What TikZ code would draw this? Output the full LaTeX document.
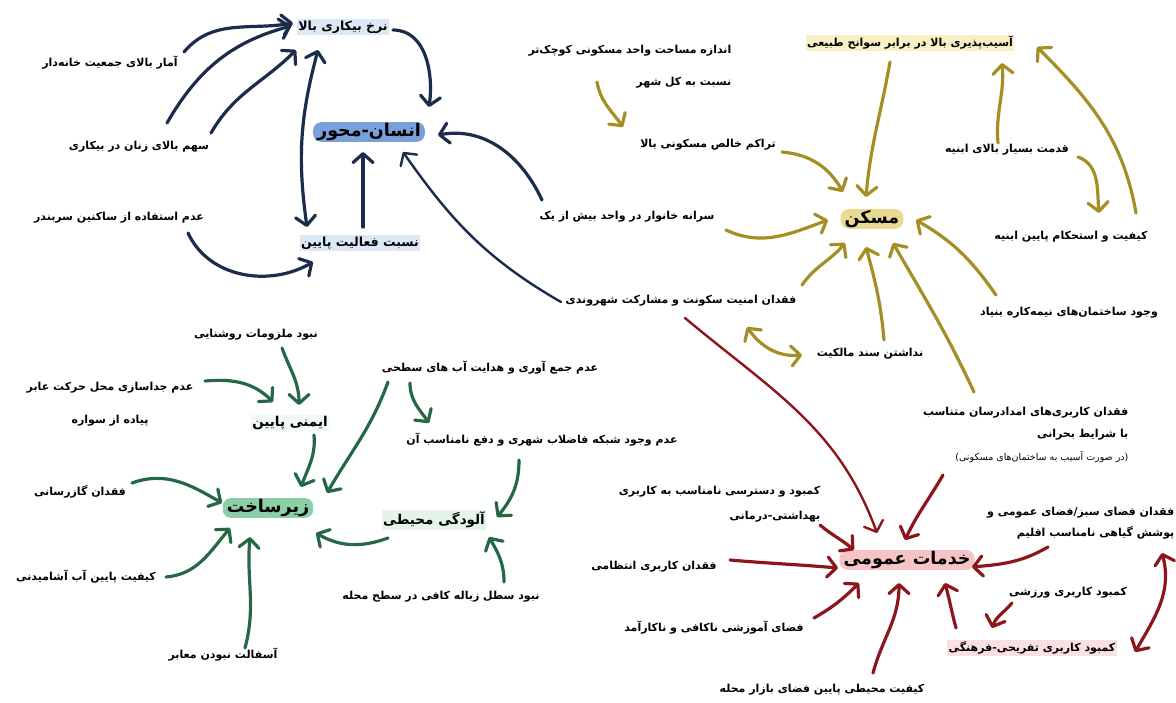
\documentclass[tikz,border=0pt]{standalone}
\usepackage{fontspec}
\newfontfamily\fa[Script=Arabic]{DejaVu Sans}
\TeXXeTstate=1
\usetikzlibrary{arrows.meta}
\newcommand\RL[1]{\beginR#1\endR}
\definecolor{navy}{RGB}{27,45,75}
\definecolor{olive}{RGB}{164,143,38}
\definecolor{dgreen}{RGB}{38,104,70}
\definecolor{dred}{RGB}{140,22,28}
\definecolor{lblue}{RGB}{221,232,246}
\definecolor{bhub}{RGB}{122,160,218}
\definecolor{lyellow}{RGB}{248,240,196}
\definecolor{yhub}{RGB}{232,218,146}
\definecolor{ghub}{RGB}{140,206,166}
\definecolor{lgreen}{RGB}{228,244,234}
\definecolor{vlgreen}{RGB}{240,249,243}
\definecolor{phub}{RGB}{246,196,198}
\definecolor{lpink}{RGB}{250,224,225}
\tikzset{
  lbl/.style={font=\fa\bfseries\fontsize{11}{13}\selectfont, inner sep=1.5pt, text=black},
  big/.style={font=\fa\bfseries\fontsize{12.5}{15}\selectfont},
  hub/.style={font=\fa\bfseries\fontsize{17.5}{20}\selectfont, rounded corners=8pt, inner xsep=4pt, inner ysep=1pt, text=black},
  tipA/.tip={Straight Barb[length=9pt,width=20pt,round]},
  con/.style={line width=3.2pt, line cap=round, -tipA},
  dbl/.style={line width=3.2pt, line cap=round, tipA-tipA},
  nv/.style={draw=navy},
  ol/.style={draw=olive},
  gr/.style={draw=dgreen},
  rd/.style={draw=dred}
}
\begin{document}
\begin{tikzpicture}[x=1pt,y=1pt]
\fill[white] (0,0) rectangle (1176,-702);
\useasboundingbox (0,0) rectangle (1176,-702);
% ---------- blue cluster
\node[lbl,big,fill=lblue] (unemp) at (343,-27) {\RL{نرخ بیکاری بالا}};
\node[hub,fill=bhub] (hum) at (369,-132) {\RL{انسان-محور}};
\node[lbl,big,fill=lblue] (act) at (360,-243) {\RL{نسبت فعالیت پایین}};
\node[lbl] (stat) at (110,-63) {\RL{آمار بالای جمعیت خانه‌دار}};
\node[lbl] (women) at (139,-147) {\RL{سهم بالای زنان در بیکاری}};
\node[lbl] (nouse) at (119,-218) {\RL{عدم استفاده از ساکنین سربندر}};
% ---------- olive cluster
\node[lbl,fill=lyellow] (vul) at (910,-43) {\RL{آسیب‌پذیری بالا در برابر سوانح طبیعی}};
\node[lbl,align=right,anchor=north east,font=\fa\bfseries\fontsize{11}{32}\selectfont] (size) at (733,-43) {\RL{اندازه مساحت واحد مسکونی کوچک‌تر}\\\RL{نسبت به کل شهر}};
\node[lbl] (dens) at (708,-145) {\RL{تراکم خالص مسکونی بالا}};
\node[hub,fill=yhub] (mask) at (872,-219) {\RL{مسکن}};
\node[lbl] (house) at (627,-217) {\RL{سرانه خانوار در واحد بیش از یک}};
\node[lbl] (secur) at (681,-301) {\RL{فقدان امنیت سکونت و مشارکت شهروندی}};
\node[lbl] (own) at (870,-354) {\RL{نداشتن سند مالکیت}};
\node[lbl] (old) at (1007,-150) {\RL{قدمت بسیار بالای ابنیه}};
\node[lbl] (qual) at (1071,-237) {\RL{کیفیت و استحکام پایین ابنیه}};
\node[lbl] (unfin) at (1069,-313) {\RL{وجود ساختمان‌های نیمه‌کاره بنیاد}};
\node[lbl,align=right,anchor=north east,font=\fa\bfseries\fontsize{11}{22.5}\selectfont] (emerg) at (1130,-405) {\RL{فقدان کاربری‌های امدادرسان متناسب}\\\RL{با شرایط بحرانی}\\{\fontsize{9.5}{11}\selectfont\mdseries\RL{(در صورت آسیب به ساختمان‌های مسکونی)}}};
% ---------- green cluster
\node[lbl] (light) at (256,-335) {\RL{نبود ملزومات روشنایی}};
\node[lbl,align=center,font=\fa\bfseries\fontsize{11}{33}\selectfont] (sep) at (110,-404) {\RL{عدم جداسازی محل حرکت  عابر}\\\RL{پیاده از سواره}};
\node[lbl,fill=vlgreen,font=\fa\bfseries\fontsize{13.5}{16}\selectfont] (safety) at (290,-423) {\RL{ایمنی پایین}};
\node[hub,fill=ghub] (infra) at (268,-508) {\RL{زیرساخت}};
\node[lbl] (surf) at (490,-368) {\RL{عدم جمع آوری و هدایت آب های سطحی}};
\node[lbl] (sewer) at (542,-440) {\RL{عدم وجود شبکه فاضلاب شهری و دفع نامناسب آن}};
\node[lbl,fill=lgreen,font=\fa\bfseries\fontsize{13.5}{16}\selectfont] (poll) at (434,-520) {\RL{آلودگی محیطی}};
\node[lbl] (trash) at (441,-597) {\RL{نبود سطل زباله کافی در سطح محله}};
\node[lbl] (gas) at (80,-492) {\RL{فقدان گازرسانی}};
\node[lbl] (water) at (86,-577) {\RL{کیفیت پایین آب آشامیدنی}};
\node[lbl] (asph) at (223,-655) {\RL{آسفالت نبودن معابر}};
% ---------- red cluster
\node[hub,fill=phub] (pub) at (907,-560) {\RL{خدمات عمومی}};
\node[lbl,align=right,anchor=north east,font=\fa\bfseries\fontsize{11}{25}\selectfont] (health) at (822,-484) {\RL{کمبود و دسترسی نامناسب به کاربری}\\\RL{بهداشتی-درمانی}};
\node[lbl] (perm) at (654,-567) {\RL{فقدان کاربری انتظامی}};
\node[lbl] (edu) at (714,-628) {\RL{فضای آموزشی ناکافی و ناکارآمد}};
\node[lbl] (market) at (822,-690) {\RL{کیفیت محیطی پایین فضای بازار محله}};
\node[lbl] (sport) at (1068,-593) {\RL{کمبود کاربری ورزشی}};
\node[lbl,fill=lpink] (recr) at (1032,-648) {\RL{کمبود کاربری تفریحی-فرهنگی}};
\node[lbl,align=right,anchor=north east,font=\fa\bfseries\fontsize{11}{21}\selectfont] (green) at (1176,-505) {\RL{فقدان فضای سبز/فضای عمومی و}\\\RL{پوشش گیاهی نامناسب اقلیم}};
% ---------- blue connectors
\draw[con,nv] ([shift={(74,11)}]stat.center) to[out=50,in=190] ([shift={(-50,4)}]unemp.center);
\draw[con,nv] ([shift={(28,24)}]women.center) to[out=60,in=195] ([shift={(-52,1)}]unemp.center);
\draw[con,nv] ([shift={(72,14)}]women.center) to[out=60,in=225] ([shift={(-47,-23)}]unemp.center);
\draw[dbl,nv] ([shift={(-25,-23)}]unemp.center) to[out=255,in=98] ([shift={(-53,16)}]act.center);
\draw[con,nv] ([shift={(50,-3)}]unemp.center) to[out=0,in=82] ([shift={(60,25)}]hum.center);
\draw[con,nv] ([shift={(3,16)}]act.center) -- ([shift={(-6,-20)}]hum.center);
\draw[con,nv] ([shift={(69,-15)}]nouse.center) to[out=-65,in=210] ([shift={(-47,-19)}]act.center);
\draw[con,nv] ([shift={(-85,17)}]house.center) to[out=115,in=10] ([shift={(69,-3)}]hum.center);
\draw[con,nv,line width=2.4pt] ([shift={(-120,-1)}]secur.center) to[out=150,in=-55] ([shift={(34,-20)}]hum.center);
% ---------- olive connectors
\draw[con,ol] ([shift={(-136,-39)}]size.north east) to[out=-80,in=125] ([shift={(-85,18)}]dens.center);
\draw[con,ol] ([shift={(74,-7)}]dens.center) to[out=-5,in=120] ([shift={(-29,27)}]mask.center);
\draw[con,ol] ([shift={(-20,-19)}]vul.center) to[out=-100,in=85] ([shift={(-6,22)}]mask.center);
\draw[con,ol] ([shift={(99,-13)}]house.center) to[out=-25,in=200] ([shift={(-44,-1)}]mask.center);
\draw[con,ol] ([shift={(121,16)}]secur.center) to[out=55,in=230] ([shift={(-27,-24)}]mask.center);
\draw[con,ol] ([shift={(14,14)}]own.center) to[out=95,in=-75] ([shift={(-6,-28)}]mask.center);
\draw[con,ol] ([shift={(-156,13)}]emerg.north east) to[out=115,in=-60] ([shift={(21,-24)}]mask.center);
\draw[con,ol] ([shift={(-73,18)}]unfin.center) to[out=125,in=-30] ([shift={(44,-1)}]mask.center);
\draw[dbl,ol] ([shift={(66,-26)}]secur.center) to[out=-55,in=185] ([shift={(-68,-1)}]own.center);
\draw[con,ol] ([shift={(-9,7)}]old.center) to[out=95,in=-85] ([shift={(92,-20)}]vul.center);
\draw[con,ol] ([shift={(71,-7)}]old.center) to[out=-20,in=95] ([shift={(28,24)}]qual.center);
\draw[con,ol] ([shift={(65,24)}]qual.center) to[out=100,in=-45] ([shift={(127,-4)}]vul.center);
% ---------- green connectors
\draw[con,gr] ([shift={(26,-13)}]light.center) to[out=-70,in=90] ([shift={(9,18)}]safety.center);
\draw[con,gr] ([shift={(95,23)}]sep.center) to[out=5,in=135] ([shift={(-17,21)}]safety.center);
\draw[con,gr] ([shift={(24,-12)}]safety.center) to[out=-85,in=70] ([shift={(33,21)}]infra.center);
\draw[con,gr] ([shift={(-102,-14)}]surf.center) to[out=-110,in=60] ([shift={(59,15)}]infra.center);
\draw[con,gr] ([shift={(-80,-15)}]surf.center) to[out=-90,in=125] ([shift={(-113,17)}]sewer.center);
\draw[con,gr] ([shift={(-23,-20)}]sewer.center) to[out=-90,in=50] ([shift={(63,3)}]poll.center);
\draw[con,gr] ([shift={(-46,-18)}]poll.center) to[out=-160,in=-30] ([shift={(48,-25)}]infra.center);
\draw[con,gr] ([shift={(63,15)}]trash.center) to[out=90,in=-60] ([shift={(55,-17)}]poll.center);
\draw[con,gr] ([shift={(52,9)}]gas.center) to[out=20,in=150] ([shift={(-46,5)}]infra.center);
\draw[con,gr] ([shift={(80,0)}]water.center) to[out=5,in=230] ([shift={(-38,-20)}]infra.center);
\draw[con,gr] ([shift={(22,7)}]asph.center) to[out=75,in=-95] ([shift={(-18,-29)}]infra.center);
% ---------- red connectors
\draw[con,rd,line width=2.4pt] ([shift={(4,-17)}]secur.center) to[out=-40,in=110] ([shift={(-30,27)}]pub.center);
\draw[con,rd] ([shift={(-2,-41)}]health.north east) to[out=-40,in=140] ([shift={(-53,10)}]pub.center);
\draw[con,rd] ([shift={(76,7)}]perm.center) to[out=-5,in=175] ([shift={(-69,-8)}]pub.center);
\draw[con,rd] ([shift={(100,10)}]edu.center) to[out=30,in=225] ([shift={(-48,-23)}]pub.center);
\draw[con,rd] ([shift={(51,17)}]market.center) to[out=75,in=-90] ([shift={(-8,-23)}]pub.center);
\draw[con,rd] ([shift={(-187,-70)}]emerg.north east) to[out=-120,in=65] ([shift={(-2,20)}]pub.center);
\draw[con,rd] ([shift={(-128,-42)}]green.north east) to[out=-150,in=5] ([shift={(65,-7)}]pub.center);
\draw[con,rd] ([shift={(-76,20)}]recr.center) to[out=105,in=-75] ([shift={(38,-23)}]pub.center);
\draw[con,rd] ([shift={(-56,-10)}]sport.center) to[out=-130,in=70] ([shift={(-40,20)}]recr.center);
\draw[dbl,rd] ([shift={(-14,-48)}]green.north east) to[out=-75,in=60] ([shift={(103,-4)}]recr.center);
\end{tikzpicture}
\end{document}
